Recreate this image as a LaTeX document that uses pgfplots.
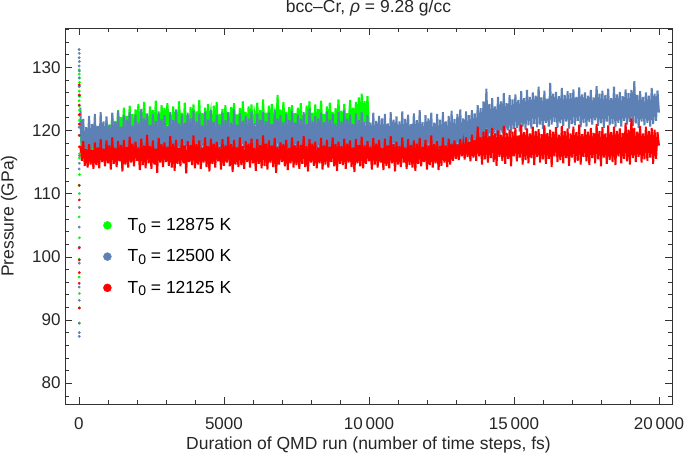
\documentclass[border=0pt]{standalone}
\usepackage{pgfplots}
\usepackage{pgfplotstable}
\pgfplotsset{compat=1.18}
\usepackage{fontspec}
\setmainfont{Liberation Sans}
\definecolor{mgreen}{rgb}{0,1,0}
\definecolor{mblue}{rgb}{0.368,0.507,0.710}
\definecolor{mred}{rgb}{1,0,0}
\definecolor{frm}{gray}{0.2}

\pgfplotstableread[header=false,row sep=\\]{
121.5\\116.2\\118.8\\115.5\\117.6\\115.9\\118.4\\116.0\\117.2\\115.7\\
118.9\\116.6\\119.7\\117.3\\120.8\\117.9\\119.9\\118.3\\121.6\\118.1\\
120.9\\118.7\\122.4\\119.0\\121.5\\118.5\\123.2\\119.7\\122.1\\119.2\\
123.6\\119.9\\122.3\\119.1\\123.9\\120.5\\122.6\\118.6\\123.3\\120.1\\
124.2\\119.6\\122.9\\120.8\\124.5\\119.9\\122.4\\119.0\\123.8\\120.6\\
123.2\\119.4\\124.7\\120.3\\122.6\\118.9\\124.0\\121.0\\123.5\\119.8\\
124.3\\120.7\\122.5\\119.2\\123.8\\120.0\\123.1\\119.5\\124.6\\120.9\\
122.8\\119.3\\124.4\\120.2\\122.4\\118.7\\123.7\\120.4\\124.1\\119.7\\
123.0\\120.6\\124.8\\119.1\\122.7\\120.3\\123.6\\118.9\\124.2\\121.2\\
122.9\\119.6\\123.9\\120.5\\124.5\\119.2\\122.6\\120.8\\123.4\\119.4\\
124.0\\120.1\\122.8\\119.0\\123.7\\121.1\\124.3\\119.8\\122.5\\120.4\\
123.5\\119.3\\124.6\\120.7\\122.9\\118.8\\123.8\\120.2\\124.1\\119.7\\
122.6\\120.9\\124.4\\119.5\\123.2\\120.3\\124.9\\119.1\\122.8\\120.6\\
123.9\\119.4\\124.2\\120.8\\122.5\\119.9\\125.6\\120.1\\123.3\\119.2\\
124.5\\120.6\\122.9\\119.6\\123.7\\121.0\\124.0\\119.3\\122.7\\120.5\\
123.6\\119.8\\124.3\\120.4\\122.4\\118.9\\123.9\\120.9\\124.6\\119.5\\
122.8\\120.2\\124.1\\119.4\\123.4\\120.7\\124.7\\119.9\\122.6\\120.3\\
123.8\\119.2\\124.4\\120.8\\122.9\\119.7\\123.5\\120.1\\124.9\\119.6\\
123.1\\120.5\\124.2\\119.3\\122.7\\120.9\\124.8\\119.8\\123.6\\120.4\\
124.5\\119.9\\125.2\\120.6\\125.8\\120.2\\124.6\\121.1\\125.4\\120.7\\
}\tgreen

\pgfplotstableread[header=false,row sep=\\]{
123.6\\116.4\\121.8\\115.9\\120.5\\116.8\\122.3\\115.7\\121.0\\117.2\\
122.6\\115.8\\120.7\\116.6\\122.9\\116.1\\121.4\\115.5\\122.2\\117.0\\
120.9\\115.9\\122.8\\116.7\\121.3\\115.6\\123.1\\117.1\\120.6\\116.3\\
122.4\\115.8\\121.7\\117.4\\122.9\\116.0\\120.8\\115.6\\122.5\\116.9\\
121.2\\115.7\\123.4\\116.5\\121.9\\117.3\\122.7\\115.9\\120.9\\116.4\\
122.6\\116.1\\121.5\\115.6\\123.0\\117.0\\121.8\\116.2\\122.4\\115.8\\
120.7\\116.9\\122.9\\115.7\\121.6\\116.5\\123.3\\117.2\\121.1\\115.9\\
122.5\\116.3\\121.2\\117.5\\122.8\\115.6\\121.9\\116.6\\123.1\\116.0\\
121.4\\115.8\\122.6\\116.8\\120.8\\117.1\\122.9\\115.7\\121.7\\116.4\\
123.2\\116.2\\121.3\\115.9\\122.5\\117.4\\121.0\\116.1\\122.8\\115.6\\
121.6\\116.7\\122.9\\115.8\\121.2\\117.0\\123.4\\116.3\\120.9\\115.9\\
122.7\\116.5\\121.5\\117.2\\122.3\\115.7\\121.8\\116.8\\123.0\\116.1\\
121.1\\115.6\\122.6\\116.9\\121.7\\117.3\\122.9\\115.9\\121.4\\116.4\\
122.8\\116.0\\121.0\\115.7\\123.3\\116.6\\121.9\\117.1\\122.4\\115.8\\
121.3\\116.7\\122.7\\116.2\\121.6\\115.6\\123.1\\116.9\\121.2\\117.4\\
122.5\\115.9\\121.8\\116.4\\122.9\\116.1\\121.0\\117.0\\123.4\\115.7\\
121.5\\116.6\\122.3\\115.8\\121.9\\117.2\\122.8\\116.0\\121.3\\116.5\\
123.0\\115.6\\121.7\\116.8\\122.6\\117.3\\121.1\\115.9\\122.9\\116.3\\
121.4\\116.9\\123.2\\115.7\\121.8\\116.4\\122.5\\117.1\\121.0\\115.8\\
122.7\\116.2\\121.6\\117.0\\122.9\\115.9\\121.3\\116.7\\122.4\\116.1\\
121.2\\115.7\\122.8\\116.5\\121.5\\117.2\\122.3\\115.8\\121.9\\116.6\\
122.6\\116.0\\121.1\\115.6\\122.9\\116.8\\121.7\\117.3\\122.2\\115.9\\
121.4\\116.4\\123.0\\115.7\\121.8\\116.9\\122.5\\116.1\\121.0\\117.1\\
122.7\\115.8\\121.6\\116.6\\123.2\\116.2\\121.3\\115.6\\122.4\\116.9\\
121.9\\117.2\\122.8\\115.9\\121.2\\116.5\\122.6\\116.0\\121.7\\115.7\\
122.9\\116.7\\121.4\\117.0\\122.3\\115.8\\123.1\\116.4\\121.8\\116.9\\
122.6\\117.2\\123.3\\116.8\\121.9\\117.6\\123.0\\117.1\\122.4\\117.9\\
123.2\\118.1\\122.7\\117.6\\124.0\\118.4\\123.5\\118.0\\124.6\\118.7\\
126.6\\119.0\\124.2\\118.6\\125.1\\119.4\\123.8\\119.1\\125.3\\118.9\\
124.6\\119.6\\125.9\\119.3\\124.3\\120.0\\125.6\\119.5\\124.9\\120.2\\
125.7\\120.4\\124.8\\119.8\\126.2\\120.6\\125.1\\120.1\\126.4\\120.8\\
125.3\\120.3\\126.0\\121.0\\125.5\\120.5\\126.9\\120.9\\125.2\\120.2\\
126.3\\121.2\\125.0\\120.6\\127.5\\120.9\\125.8\\121.3\\126.1\\120.4\\
125.4\\121.1\\126.7\\120.7\\125.6\\121.4\\126.2\\120.3\\125.9\\121.0\\
126.5\\120.8\\125.3\\121.5\\126.8\\120.5\\125.7\\121.2\\126.0\\120.6\\
125.5\\121.3\\126.4\\120.9\\125.2\\121.6\\127.0\\120.7\\125.8\\121.1\\
126.3\\120.4\\125.6\\121.4\\126.6\\120.8\\125.1\\121.0\\126.9\\120.5\\
125.7\\121.2\\126.1\\120.6\\125.4\\121.5\\126.5\\120.9\\125.9\\121.3\\
126.4\\120.7\\127.8\\121.1\\125.6\\120.4\\126.2\\121.4\\125.3\\120.8\\
126.0\\121.2\\125.5\\120.6\\126.7\\121.0\\125.8\\121.5\\126.3\\122.8\\
}\tblue

\pgfplotstableread[header=false,row sep=\\]{
117.5\\115.2\\118.3\\114.4\\117.0\\114.1\\117.8\\114.6\\116.9\\113.9\\
118.1\\114.5\\117.3\\114.0\\118.6\\115.0\\117.1\\114.3\\118.4\\114.8\\
117.6\\113.8\\118.9\\114.7\\117.2\\114.2\\118.3\\115.1\\117.7\\113.5\\
118.5\\114.6\\117.4\\114.1\\119.0\\114.9\\117.9\\114.3\\118.2\\115.2\\
117.3\\113.7\\118.7\\114.5\\117.6\\114.0\\119.3\\114.8\\117.5\\113.9\\
118.4\\114.6\\117.1\\113.3\\118.8\\114.9\\117.8\\114.2\\118.1\\115.0\\
117.4\\114.4\\119.1\\114.1\\117.9\\113.6\\118.5\\114.7\\117.2\\114.3\\
118.6\\114.8\\117.6\\113.2\\118.3\\115.0\\117.7\\114.5\\119.2\\114.0\\
117.8\\114.6\\118.4\\113.9\\117.3\\114.9\\118.9\\114.2\\117.5\\113.5\\
118.7\\114.7\\117.9\\114.1\\118.2\\115.1\\117.4\\113.8\\118.6\\114.4\\
117.6\\114.9\\119.0\\114.3\\117.8\\113.4\\118.5\\114.6\\117.3\\114.2\\
118.9\\114.5\\117.5\\113.9\\118.3\\115.0\\117.9\\114.1\\118.7\\114.8\\
117.2\\113.6\\118.6\\114.7\\117.7\\114.0\\119.2\\114.4\\117.9\\113.8\\
118.4\\114.9\\117.6\\114.2\\118.8\\113.3\\117.4\\114.6\\118.1\\115.0\\
117.8\\114.3\\118.5\\113.7\\117.2\\114.8\\118.9\\114.1\\117.6\\114.5\\
118.3\\113.9\\117.7\\114.7\\119.1\\114.2\\117.5\\113.5\\118.6\\114.9\\
117.9\\114.4\\118.2\\114.0\\117.3\\114.8\\118.8\\113.8\\117.6\\114.6\\
118.5\\114.1\\117.4\\115.0\\118.9\\114.3\\117.8\\113.6\\118.2\\114.7\\
117.5\\114.5\\118.7\\113.9\\117.9\\114.9\\118.4\\114.2\\117.3\\113.4\\
118.6\\114.8\\117.7\\114.3\\119.0\\114.0\\117.6\\114.7\\118.3\\115.1\\
117.4\\113.8\\118.8\\114.6\\117.9\\114.1\\118.5\\114.9\\117.2\\113.7\\
118.7\\114.4\\117.6\\114.0\\119.1\\114.8\\117.8\\113.5\\118.2\\114.6\\
117.5\\114.2\\118.9\\114.9\\117.3\\113.9\\118.6\\114.5\\117.7\\114.1\\
118.4\\113.6\\117.9\\114.7\\118.8\\114.3\\117.4\\115.0\\118.5\\113.8\\
117.6\\114.5\\119.2\\114.1\\117.8\\114.8\\118.3\\113.7\\117.5\\114.4\\
118.9\\114.9\\117.6\\114.2\\118.7\\114.6\\117.9\\115.2\\118.4\\115.5\\
117.8\\115.3\\118.6\\115.9\\117.9\\115.4\\118.9\\115.8\\118.2\\115.1\\
119.3\\115.7\\118.5\\115.2\\120.6\\115.9\\119.0\\114.6\\119.8\\115.4\\
120.2\\114.9\\119.1\\115.6\\120.4\\115.0\\119.5\\114.4\\120.0\\115.8\\
119.3\\115.2\\120.7\\114.7\\119.6\\115.5\\120.1\\114.3\\119.8\\115.9\\
120.4\\115.1\\119.2\\115.7\\120.9\\114.6\\119.7\\115.3\\120.3\\114.8\\
119.5\\115.6\\120.6\\114.5\\119.9\\115.8\\120.2\\114.9\\119.4\\115.4\\
120.8\\114.7\\119.6\\115.5\\120.1\\114.2\\119.8\\115.9\\120.5\\115.0\\
119.3\\115.3\\120.7\\114.8\\119.9\\115.6\\120.3\\114.4\\119.5\\115.7\\
120.6\\114.9\\119.7\\115.2\\120.9\\114.6\\119.4\\115.8\\120.2\\115.1\\
119.8\\114.5\\120.4\\115.6\\119.6\\114.8\\121.0\\115.4\\119.9\\114.3\\
120.5\\115.7\\119.5\\114.7\\120.8\\115.3\\119.7\\115.0\\120.6\\114.5\\
119.9\\115.9\\120.3\\114.8\\119.6\\115.5\\121.2\\115.1\\120.1\\114.6\\
121.9\\115.6\\120.4\\115.0\\119.8\\115.8\\120.7\\114.9\\119.5\\115.4\\
120.6\\115.2\\119.9\\115.7\\120.4\\114.7\\120.1\\115.5\\119.7\\117.6\\
}\tred

\begin{document}
\begin{tikzpicture}
\begin{axis}[
  scale only axis,
  width=607pt, height=376pt,
  at={(0,0)}, anchor=south west,
  xmin=-480, xmax=20450,
  ymin=76.7, ymax=136.2,
  scaled x ticks=false,
  axis line style={frm, line width=0.6pt},
  every tick/.style={frm, line width=0.5pt},
  tick align=inside,
  major tick length=7pt,
  minor tick length=4pt,
  xtick={0,5000,10000,15000,20000},
  xticklabels={0,5000,10\,000,15\,000,20\,000},
  minor xtick={1000,2000,3000,4000,6000,7000,8000,9000,11000,12000,13000,14000,16000,17000,18000,19000},
  ytick={80,90,100,110,120,130},
  yticklabels={80,90,100,110,120,130},
  minor ytick={78,82,84,86,88,92,94,96,98,102,104,106,108,112,114,116,118,122,124,126,128,132,134,136},
  /pgf/number format/assume math mode=true,
  tick label style={font=\fontsize{17}{19}\selectfont, text=black!85},
  xticklabel style={yshift=-10pt},
  yticklabel style={xshift=-1pt},
  every axis x label/.style={at={(axis description cs:0.5,0)}, anchor=base, yshift=-45pt, font=\fontsize{17.5}{20}\selectfont, text=black!85},
  every axis y label/.style={at={(axis description cs:-0.0923,0.5)}, rotate=90, anchor=center, font=\fontsize{17.5}{20}\selectfont, text=black!85},
  xlabel={Duration of QMD run (number of time steps, fs)},
  ylabel={Pressure (GPa)},
  every axis title/.style={at={(axis description cs:0.5,1)}, anchor=base, yshift=15pt, font=\fontsize{17.5}{20}\selectfont, text=black!85},
  title={bcc\textendash Cr, \textit{ρ} = 9.28 g/cc},
  legend cell align=left,
  legend image code/.code={\fill (4pt,0pt) circle (4pt);},
  legend style={draw=none, fill=none, at={(0.0626,0.392)}, anchor=west,
    inner sep=0pt, row sep=13.5pt, column sep=14pt,
    font=\fontsize{17.5}{20}\selectfont},
]
\addplot[mgreen, line width=2pt, forget plot] table[x expr={50+50*\coordindex}, y index=0] {\tgreen};
\addplot[mblue, line width=2pt, forget plot] table[x expr={50+50*\coordindex}, y index=0] {\tblue};
\addplot[mred, line width=2pt, forget plot] table[x expr={50+50*\coordindex}, y index=0] {\tred};

\addplot[only marks, mark=*, mark size=1.2pt, mgreen, forget plot] coordinates {
(5,129.6) (10,128.9) (15,128.3) (20,127.6) (8,126.9) (12,126.2) (18,125.4) (6,124.7) (14,123.9) (22,123.2) (9,122.4) (16,121.6) (25,116.3) (11,115.6) (20,113.0) (7,111.3) (15,110.0) (10,106.3) (18,103.0) (12,99.6) (8,96.8) (16,94.2) (11,91.9) (14,89.5)};
\addplot[only marks, mark=*, mark size=1.2pt, mblue, forget plot] coordinates {
(6,132.8) (12,132.2) (9,131.5) (15,130.9) (7,130.2) (13,129.4) (10,128.3) (18,127.0) (14,125.5) (8,120.5) (16,116.0) (12,114.8) (9,113.9) (14,107.8) (10,104.7) (17,101.5) (12,99.0) (8,95.2) (15,93.1) (11,89.5) (13,88.0) (9,87.4)};
\addplot[only marks, mark=*, mark size=1.2pt, mred, forget plot] coordinates {
(8,127.2) (14,125.6) (10,124.0) (16,122.5) (12,121.0) (9,119.2) (13,117.4) (11,111.3) (15,109.0) (9,101.4) (13,99.5) (10,95.8) (16,91.9) (12,97.5)};

\addlegendimage{mgreen}
\addlegendentry{T\raisebox{-0.25ex}{\fontsize{14}{14}\selectfont 0} = 12875 K}
\addlegendimage{mblue}
\addlegendentry{T\raisebox{-0.25ex}{\fontsize{14}{14}\selectfont 0} = 12500 K}
\addlegendimage{mred}
\addlegendentry{T\raisebox{-0.25ex}{\fontsize{14}{14}\selectfont 0} = 12125 K}
\end{axis}
\pgfresetboundingbox
\path[use as bounding box] (-65pt,-51pt) rectangle (620pt,404pt);
\end{tikzpicture}
\end{document}
